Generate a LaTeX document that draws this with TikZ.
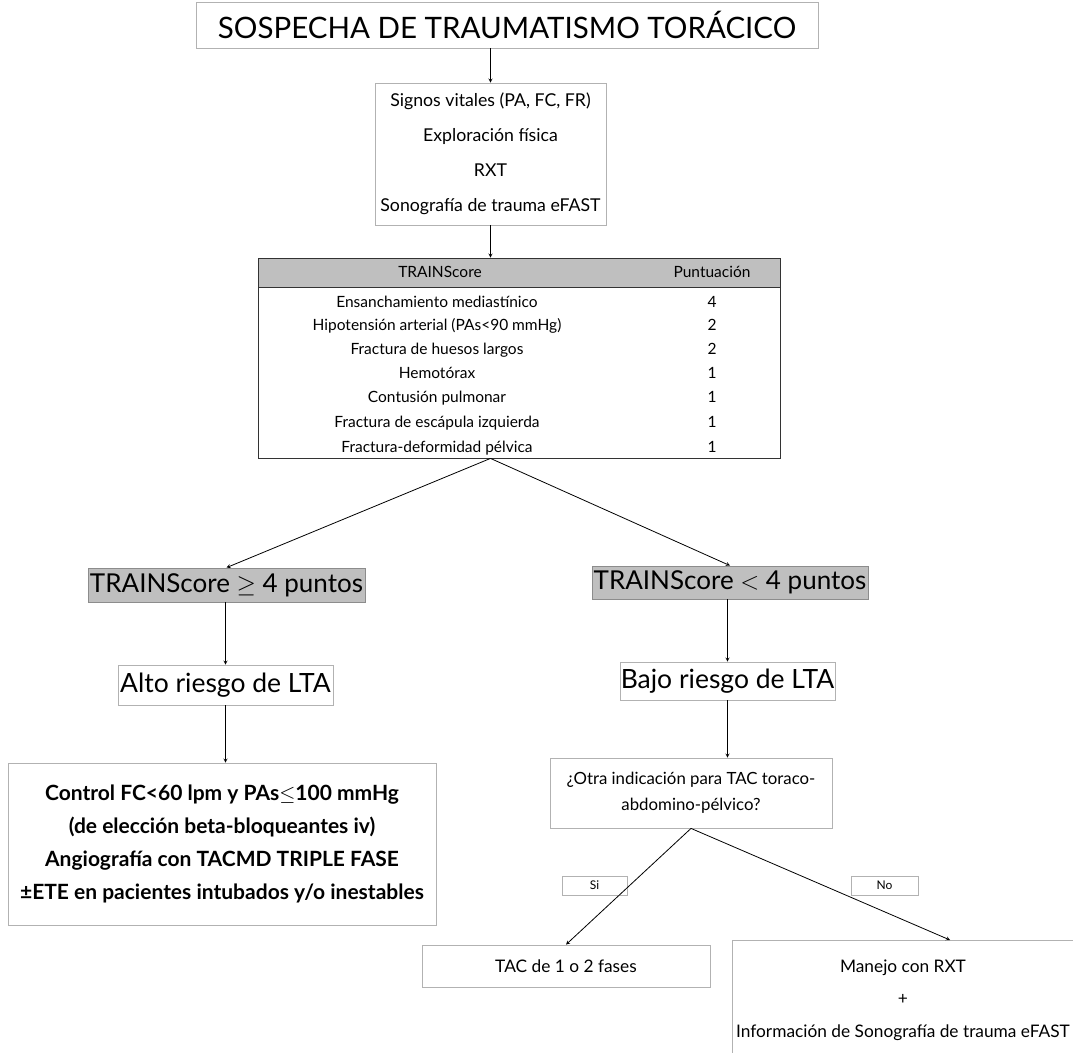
\documentclass[tikz,border=0pt]{standalone}
\usepackage{fontspec}
\setmainfont{Lato}
\usepackage{tikz}
\usetikzlibrary{positioning}
\usetikzlibrary{arrows,shapes}
\usetikzlibrary{calc}
\definecolor{headgray}{RGB}{191,191,191}
\tikzstyle{box}=[draw=black!30,fill=white,line width=0.8pt,inner sep=0pt,align=center]
\tikzstyle{graybox}=[draw=black!45,fill=headgray,line width=0.8pt,inner sep=0pt]
\tikzstyle{edge}=[draw,line width=0.8pt,-stealth]
\tikzstyle{row}=[font=\fontsize{15.5}{17}\selectfont,inner sep=0pt,anchor=base]

\begin{document}
\begin{tikzpicture}[x=1pt,y=-1pt]
    \useasboundingbox (0,0) rectangle (1073,1052);
    % top of the chart
    \node[box,minimum width=622pt,minimum height=46pt,font=\fontsize{29.5}{34}\selectfont] (title) at (507,25) {SOSPECHA DE TRAUMATISMO TORÁCICO};
    \node[box,minimum width=231pt,minimum height=142pt,font=\fontsize{17.7}{35}\selectfont] (signs) at (490.5,154)
        {Signos vitales (PA, FC, FR)\\Exploración física\\RXT\\Sonografía de trauma eFAST};

    % score table
    \node[draw=black!80,line width=0.8pt,minimum width=522pt,minimum height=200pt] (train) at (519,358) {};
    \node[graybox,draw=black!80,minimum width=522pt,minimum height=29pt] (head) at (519,272.5) {};
    \node[row] (headname) at (440,277) {TRAINScore};
    \node[row] (headpts) at (712,277) {Puntuación};
    \foreach \y/\txt/\pts/\name in {307/Ensanchamiento mediastínico/4/r1, 330/Hipotensión arterial (PAs<90 mmHg)/2/r2,
        354/Fractura de huesos largos/2/r3, 378/Hemotórax/1/r4, 402/Contusión pulmonar/1/r5,
        427/Fractura de escápula izquierda/1/r6, 452/Fractura-deformidad pélvica/1/r7}
    {
        \node[row] (\name) at (437,\y) {\txt};
        \node[row] (\name p) at (712,\y) {\pts};
    }
    \coordinate (split) at (signs.south |- train.south);

    % left branch
    \node[graybox,minimum width=277pt,minimum height=34pt,font=\fontsize{26}{30}\selectfont] (high) at (226.5,585) {TRAINScore $\geq$ 4 puntos};
    \node[box,minimum width=215pt,minimum height=40pt,font=\fontsize{26.5}{30}\selectfont] (alto) at (225.5,685) {Alto riesgo de LTA};
    \node[box,minimum width=428pt,minimum height=162pt,font=\bfseries\fontsize{21}{33}\selectfont] (control) at (222,844)
        {Control FC<60 lpm y PAs$\leq$100 mmHg\\(de elección beta-bloqueantes iv)\\Angiografía con TACMD TRIPLE FASE\\±ETE en pacientes intubados y/o inestables};

    % right branch
    \node[graybox,minimum width=276pt,minimum height=33pt,font=\fontsize{26}{30}\selectfont] (low) at (730,582.5) {TRAINScore $<$ 4 puntos};
    \node[box,minimum width=215pt,minimum height=38pt,font=\fontsize{26.5}{30}\selectfont] (bajo) at (727.5,681) {Bajo riesgo de LTA};
    \node[box,minimum width=282pt,minimum height=70pt,font=\fontsize{16.8}{26}\selectfont] (quest) at (691,793)
        {¿Otra indicación para TAC toraco-\\abdomino-pélvico?};
    \node[box,minimum width=65pt,minimum height=19pt,font=\fontsize{12}{13}\selectfont] (si) at (594.5,885.5) {Si};
    \node[box,minimum width=67pt,minimum height=19pt,font=\fontsize{12}{13}\selectfont] (no) at (884.5,885.5) {No};
    \node[box,minimum width=288pt,minimum height=42pt,font=\fontsize{17.3}{19}\selectfont] (tac) at (566,966) {TAC de 1 o 2 fases};
    \node[box,minimum width=342pt,minimum height=120pt,font=\fontsize{17.3}{32.5}\selectfont] (manejo) at (903,1000)
        {Manejo con RXT\\+\\Información de Sonografía de trauma eFAST};
    \coordinate (noend) at (950,940);

    % connectors
    \path[edge] (signs.north |- title.south) -- (signs.north);
    \path[edge] (signs.south) -- (signs.south |- train.north);
    \path[edge] (split) -- (high.north);
    \path[edge] (split) -- (low.north);
    \path[edge] (alto.north |- high.south) -- (alto.north);
    \path[edge] (alto.south) -- (alto.south |- control.north);
    \path[edge] (bajo.north |- low.south) -- (bajo.north);
    \path[edge] (bajo.south) -- (bajo.south |- quest.north);
    \path[edge] (quest.south) -- (tac.north);
    \path[edge] (quest.south) -- (noend);
\end{tikzpicture}
\end{document}
